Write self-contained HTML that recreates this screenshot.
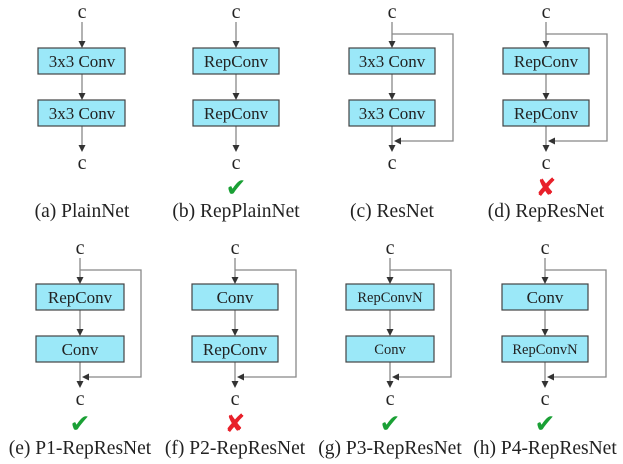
<!DOCTYPE html>
<html><head><meta charset="utf-8"><style>
html,body{margin:0;padding:0;background:#fff;}
svg{display:block}
text{font-family:"Liberation Serif",serif;fill:#222}
.ln{stroke:#888;stroke-width:1.3;fill:none}
.bx{fill:#9BE8F8;stroke:#444;stroke-width:1.2}
.ah{fill:#333}
.bt{font-size:17px;text-anchor:middle}
.c{font-size:20px;text-anchor:middle}
.lb{font-size:19.5px;text-anchor:middle}
.ok{font-size:25px;fill:#1aa035;text-anchor:middle;font-family:"DejaVu Sans",sans-serif}
.no{font-size:25px;fill:#e8202a;text-anchor:middle;font-family:"DejaVu Sans",sans-serif}
</style></head><body>
<svg width="623" height="464" viewBox="0 0 623 464" xmlns="http://www.w3.org/2000/svg">
<defs>
<g id="plain">
<text class="c" x="0" y="18">c</text>
<line class="ln" x1="0" y1="22" x2="0" y2="42"/><path class="ah" d="M-3.5,41 L3.5,41 L0,48 Z"/>
<line class="ln" x1="0" y1="74" x2="0" y2="94"/><path class="ah" d="M-3.5,93 L3.5,93 L0,100 Z"/>
<line class="ln" x1="0" y1="126" x2="0" y2="146"/><path class="ah" d="M-3.5,145 L3.5,145 L0,152 Z"/>
<text class="c" x="0" y="169">c</text>
</g>
<g id="res">
<path class="ln" d="M0,34 H61 V141 H8"/>
<path class="ah" d="M2,141 L9,137.5 L9,144.5 Z"/>
</g>
</defs>

<g transform="translate(82,0)">
<use href="#plain"/>
<rect class="bx" x="-44" y="48" width="87" height="26"/><text class="bt" x="0" y="67">3x3 Conv</text>
<rect class="bx" x="-44" y="100" width="87" height="26"/><text class="bt" x="0" y="119">3x3 Conv</text>
<text class="lb" x="0" y="217">(a) PlainNet</text>
</g>
<g transform="translate(236,0)">
<use href="#plain"/>
<rect class="bx" x="-43" y="48" width="86" height="26"/><text class="bt" x="0" y="67">RepConv</text>
<rect class="bx" x="-43" y="100" width="86" height="26"/><text class="bt" x="0" y="119">RepConv</text>
<text class="ok" x="0" y="196">✔</text>
<text class="lb" x="0" y="217">(b) RepPlainNet</text>
</g>
<g transform="translate(392,0)">
<use href="#plain"/><use href="#res"/>
<rect class="bx" x="-43" y="48" width="86" height="26"/><text class="bt" x="0" y="67">3x3 Conv</text>
<rect class="bx" x="-43" y="100" width="86" height="26"/><text class="bt" x="0" y="119">3x3 Conv</text>
<text class="lb" x="0" y="217">(c) ResNet</text>
</g>
<g transform="translate(546,0)">
<use href="#plain"/><use href="#res"/>
<rect class="bx" x="-43" y="48" width="86" height="26"/><text class="bt" x="0" y="67">RepConv</text>
<rect class="bx" x="-43" y="100" width="86" height="26"/><text class="bt" x="0" y="119">RepConv</text>
<text class="no" x="0" y="196">✘</text>
<text class="lb" x="0" y="217">(d) RepResNet</text>
</g>

<g transform="translate(80,236)">
<use href="#plain"/><use href="#res"/>
<rect class="bx" x="-44" y="48" width="88" height="26"/><text class="bt" x="0" y="67">RepConv</text>
<rect class="bx" x="-44" y="100" width="88" height="26"/><text class="bt" x="0" y="119">Conv</text>
<text class="ok" x="0" y="196">✔</text>
<text class="lb" x="0" y="218">(e) P1-RepResNet</text>
</g>
<g transform="translate(235,236)">
<use href="#plain"/><use href="#res"/>
<rect class="bx" x="-43" y="48" width="86" height="26"/><text class="bt" x="0" y="67">Conv</text>
<rect class="bx" x="-43" y="100" width="86" height="26"/><text class="bt" x="0" y="119">RepConv</text>
<text class="no" x="0" y="196">✘</text>
<text class="lb" x="0" y="218">(f) P2-RepResNet</text>
</g>
<g transform="translate(390,236)">
<use href="#plain"/><use href="#res"/>
<rect class="bx" x="-44" y="48" width="88" height="26"/><text class="bt" x="0" y="66" style="font-size:14.5px">RepConvN</text>
<rect class="bx" x="-44" y="100" width="88" height="26"/><text class="bt" x="0" y="118" style="font-size:14.5px">Conv</text>
<text class="ok" x="0" y="196">✔</text>
<text class="lb" x="0" y="218">(g) P3-RepResNet</text>
</g>
<g transform="translate(545,236)">
<use href="#plain"/><use href="#res"/>
<rect class="bx" x="-43" y="48" width="86" height="26"/><text class="bt" x="0" y="67">Conv</text>
<rect class="bx" x="-43" y="100" width="86" height="26"/><text class="bt" x="0" y="118" style="font-size:14.5px">RepConvN</text>
<text class="ok" x="0" y="196">✔</text>
<text class="lb" x="0" y="218">(h) P4-RepResNet</text>
</g>
</svg>
</body></html>
